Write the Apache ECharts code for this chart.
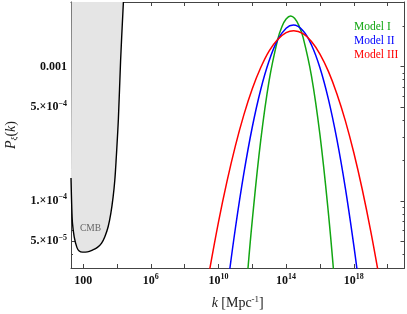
<!DOCTYPE html>
<html><head><meta charset="utf-8">
<script src="https://cdn.jsdelivr.net/npm/echarts@6/dist/echarts.min.js"></script>
<style>html,body{margin:0;padding:0;background:#fff}#c{width:407px;height:314px}</style>
</head><body><div id="c"></div>
<script>
// k values are given as exponents: k = 10^x  [Mpc^-1]; P values are raw
const kRangeExp = [1.28, 21];
const pRange = [3.16e-5, 3.03e-3];

const seriesNames = ['Model I', 'Model II', 'Model III'];
const seriesColors = ['#12a612', '#0000ff', '#ff0000'];

const model1LogK = [11.7, 12, 12.5, 13, 13.5, 13.75, 14, 14.27, 14.5, 14.75, 15, 15.5, 16, 16.5, 16.85];
const model1P = [2.68e-5, 7.18e-5, 2.83e-4, 7.94e-4, 1.59e-3, 1.98e-3, 2.26e-3, 2.38e-3, 2.29e-3, 2.03e-3, 1.66e-3, 8.51e-4, 3.11e-4, 8.11e-5, 2.58e-5];

const model2LogK = [10.6, 11, 11.5, 12, 12.5, 13, 13.5, 14, 14.43, 15, 15.5, 16, 16.5, 17, 17.5, 18, 18.3];
const model2P = [2.65e-5, 6.25e-5, 1.60e-4, 3.55e-4, 6.76e-4, 1.11e-3, 1.58e-3, 1.93e-3, 2.04e-3, 1.85e-3, 1.45e-3, 9.82e-4, 5.73e-4, 2.88e-4, 1.25e-4, 4.68e-5, 2.41e-5];

const model3LogK = [9.4, 10, 10.5, 11, 11.5, 12, 12.5, 13, 13.5, 14, 14.45, 15, 15.5, 16, 16.5, 17, 17.5, 18, 18.5, 19, 19.5];
const model3P = [2.70e-5, 6.94e-5, 1.39e-4, 2.57e-4, 4.37e-4, 6.84e-4, 9.84e-4, 1.31e-3, 1.59e-3, 1.79e-3, 1.85e-3, 1.76e-3, 1.54e-3, 1.24e-3, 9.21e-4, 6.29e-4, 3.96e-4, 2.29e-4, 1.22e-4, 5.98e-5, 2.70e-5];

const cmbLogK = [1.28, 1.321, 1.368, 1.469, 1.628, 1.764, 1.959, 2.254, 2.549, 2.844, 3.080, 3.281, 3.476, 3.635, 3.771, 3.871, 3.948, 4.084, 4.214, 4.379];
const cmbP = [1.48e-4, 9.30e-5, 6.79e-5, 5.40e-5, 4.50e-5, 4.23e-5, 4.15e-5, 4.17e-5, 4.30e-5, 4.50e-5, 4.82e-5, 5.40e-5, 6.41e-5, 8.07e-5, 1.07e-4, 1.43e-4, 2.01e-4, 4.12e-4, 1.12e-3, 3.03e-3];
const cmbLabel = 'CMB';
const cmbLabelAt = [2.43, 6.17e-5];

const xTickMajorExp = [2, 6, 10, 14, 18];
const xTickLabels = ['100', '10^6', '10^10', '10^14', '10^18'];
const xTickMinorExp = [4, 8, 12, 16, 20];
const yTickMajor = [5e-5, 1e-4, 5e-4, 1e-3];
const yTickLabels = ['5.×10^−5', '1.×10^−4', '5.×10^−4', '0.001'];
const yTickMinor = [4e-5, 6e-5, 7e-5, 8e-5, 9e-5, 2e-4, 3e-4, 4e-4, 6e-4, 7e-4, 8e-4, 9e-4, 2e-3, 3e-3];

const SERIF = '"Liberation Serif", "DejaVu Serif", serif';
const L = Math.log10;
const frame = '#444';

function richLabel(s) {
  const p = s.split('^');
  return p.length > 1 ? '{b|' + p[0] + '}{s|' + p[1] + '}' : '{b|' + p[0] + '}';
}
function pick(vals, labels, v) {
  let bi = 0, bd = Infinity;
  vals.forEach((t, i) => { const d = Math.abs(t - v); if (d < bd) { bd = d; bi = i; } });
  return richLabel(labels[bi]);
}
const tickRich = {
  b: { fontFamily: SERIF, fontSize: 12, fontWeight: 'bold', color: '#111', lineHeight: 15 },
  s: { fontFamily: SERIF, fontSize: 8, fontWeight: 'bold', color: '#111', verticalAlign: 'top', lineHeight: 9 }
};

const xMin = kRangeExp[0], xMax = kRangeExp[1];
const yMin = L(pRange[0]), yMax = L(pRange[1]);
const yMajLog = yTickMajor.map(L), yMinLog = yTickMinor.map(L);

function xAx(pos, vals, len, labels, line) {
  return {
    type: 'value', position: pos, min: xMin, max: xMax,
    axisLine: { show: line, onZero: false, lineStyle: { color: frame, width: 1 } },
    axisTick: { show: true, inside: true, length: len, customValues: vals, lineStyle: { color: frame, width: 1 } },
    axisLabel: labels ? { show: true, customValues: vals, margin: 5, rich: tickRich,
      formatter: v => pick(xTickMajorExp, xTickLabels, v) } : { show: false },
    splitLine: { show: false }
  };
}
function yAx(pos, vals, len, labels, line) {
  return {
    type: 'value', position: pos, min: yMin, max: yMax,
    axisLine: { show: line, onZero: false, lineStyle: { color: frame, width: 1 } },
    axisTick: { show: true, inside: true, length: len, customValues: vals, lineStyle: { color: frame, width: 1 } },
    axisLabel: labels ? { show: true, customValues: vals, margin: 4, rich: tickRich,
      formatter: v => pick(yMajLog, yTickLabels, v) } : { show: false },
    splitLine: { show: false }
  };
}

const xAxes = [
  xAx('bottom', xTickMajorExp, 4, true, true),
  xAx('bottom', xTickMinorExp, 4, false, false),
  xAx('top', xTickMajorExp, 4, false, true),
  xAx('top', xTickMinorExp, 4, false, false)
];
xAxes[0].name = '{i|k} {r|[Mpc}{s|-1}{r|]}';
xAxes[0].nameLocation = 'middle';
xAxes[0].nameGap = 27;
xAxes[0].nameTextStyle = { rich: {
  i: { fontFamily: SERIF, fontStyle: 'italic', fontSize: 14, color: '#222', lineHeight: 16 },
  r: { fontFamily: SERIF, fontSize: 14, color: '#222', lineHeight: 16 },
  s: { fontFamily: SERIF, fontSize: 9, color: '#222', verticalAlign: 'top', lineHeight: 10 }
} };

const yAxes = [
  yAx('left', yMajLog, 4, true, true),
  yAx('left', yMinLog, 2, false, false),
  yAx('right', yMajLog, 4, false, true),
  yAx('right', yMinLog, 2, false, false)
];
yAxes[0].name = '{i|P}{u|ξ}{r|(}{i|k}{r|)}';
yAxes[0].nameLocation = 'middle';
yAxes[0].nameGap = 52;
yAxes[0].nameRotate = 90;
yAxes[0].nameTextStyle = { rich: {
  i: { fontFamily: SERIF, fontStyle: 'italic', fontSize: 14, color: '#222', lineHeight: 16 },
  r: { fontFamily: SERIF, fontSize: 14, color: '#222', lineHeight: 16 },
  u: { fontFamily: SERIF, fontStyle: 'italic', fontSize: 9, color: '#222', verticalAlign: 'bottom', lineHeight: 10 }
} };

const zip = (xs, ps) => xs.map((x, i) => [x, L(ps[i])]);
const modelData = [zip(model1LogK, model1P), zip(model2LogK, model2P), zip(model3LogK, model3P)];

const series = [
  {
    name: 'CMB', type: 'line', data: zip(cmbLogK, cmbP), smooth: 0.35, showSymbol: false,
    lineStyle: { color: '#000', width: 1.4 }, itemStyle: { color: '#000' },
    areaStyle: { color: '#e5e5e5', opacity: 1, origin: 'end' }, z: 1, silent: true
  },
  {
    name: 'cmbLabel', type: 'scatter', data: [[cmbLabelAt[0], L(cmbLabelAt[1])]], symbolSize: 0, silent: true,
    label: { show: true, position: 'inside', formatter: cmbLabel, fontFamily: SERIF, fontSize: 9.5, color: '#444' }, z: 3
  }
].concat(seriesNames.map((n, i) => ({
  name: n, type: 'line', data: modelData[i], smooth: 0.4, showSymbol: false,
  lineStyle: { color: seriesColors[i], width: 1.5 }, itemStyle: { color: seriesColors[i] }, z: 2
})));

const chart = echarts.init(document.getElementById('c'), null, { renderer: 'canvas' });
chart.setOption({
  animation: false,
  backgroundColor: '#fff',
  grid: { left: 71, right: 2.5, top: 2, bottom: 46, containLabel: false, outerBoundsMode: 'none' },
  xAxis: xAxes,
  yAxis: yAxes,
  legend: {
    data: seriesNames.map((n, i) => ({ name: n, textStyle: { color: seriesColors[i] } })),
    orient: 'vertical', left: 349, top: 21, padding: 0, itemGap: 2,
    itemWidth: 0, itemHeight: 0, icon: 'rect', selectedMode: false,
    itemStyle: { opacity: 0 }, lineStyle: { opacity: 0 },
    textStyle: { fontFamily: SERIF, fontSize: 11.5, lineHeight: 12 }
  },
  series: series
});
</script></body></html>
